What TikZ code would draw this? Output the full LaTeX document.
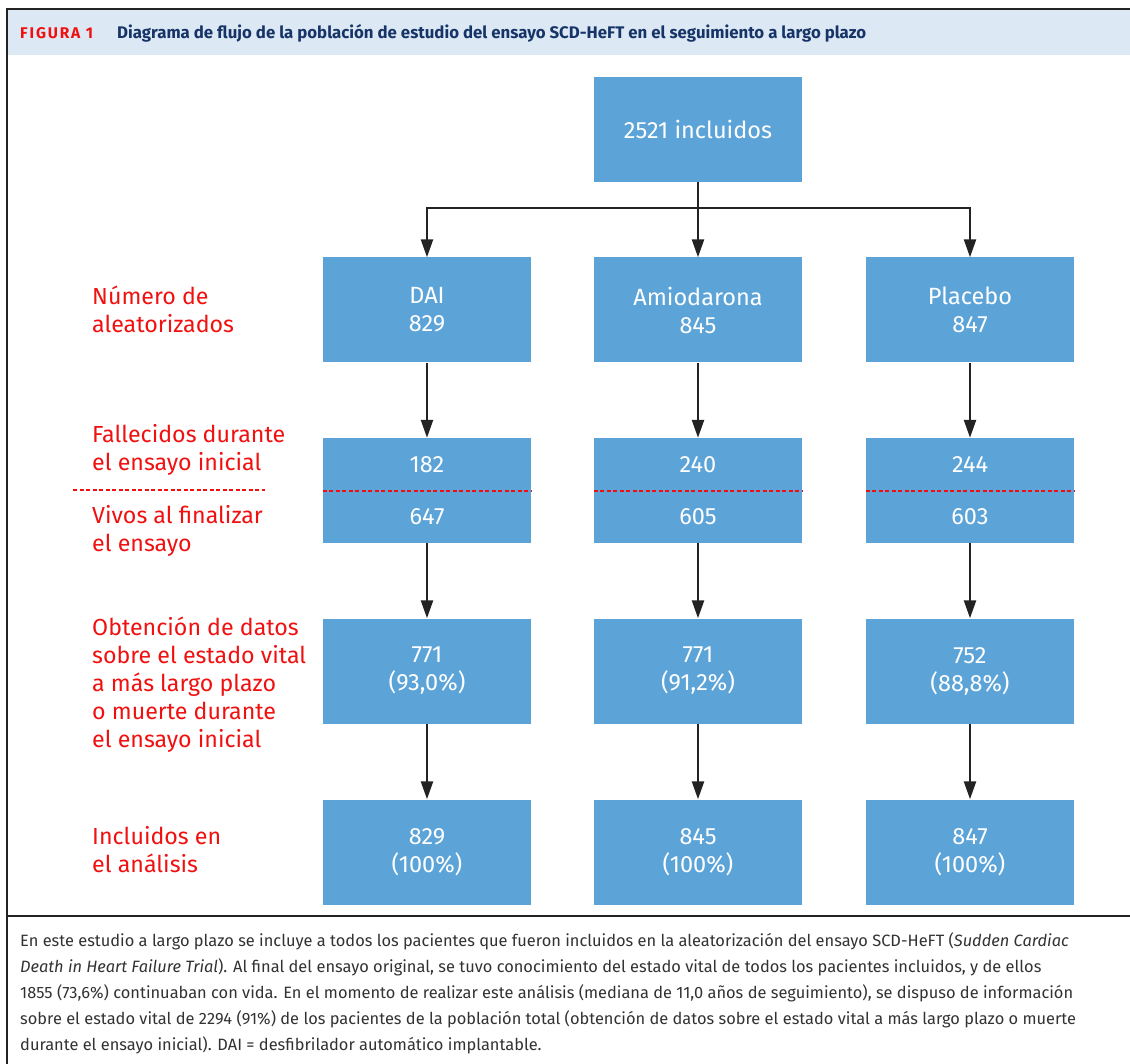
\documentclass[tikz,border=0pt]{standalone}
\usepackage{fontspec}
\setmainfont{Fira Sans}
\usetikzlibrary{arrows.meta}
\definecolor{azulcaja}{RGB}{92,164,216}
\definecolor{rojoet}{RGB}{240,16,16}
\definecolor{fondocab}{RGB}{220,232,244}
\definecolor{azultit}{RGB}{22,52,104}
\definecolor{gristxt}{RGB}{50,50,50}
\definecolor{linea}{RGB}{35,35,35}
\begin{document}
\begin{tikzpicture}[x=1pt,y=-1pt]
\tikzstyle{caja}=[fill=azulcaja,text=white,minimum width=208pt,minimum height=105pt,align=center,inner sep=0pt,font=\fontsize{23.5}{28}\selectfont]
\tikzstyle{mitad}=[caja,minimum height=52.5pt]
\tikzstyle{etiq}=[anchor=west,align=left,text=rojoet,inner sep=0pt,font=\fontsize{23.2}{28}\selectfont]
\tikzstyle{flecha}=[draw=linea,line width=2.4pt,-{Triangle[length=18pt,width=12pt]}]
\tikzstyle{corte}=[draw=rojoet,line width=1.6pt,dash pattern=on 4pt off 2.5pt]
\useasboundingbox (0,0) rectangle (1130,1064);
\fill[fondocab] (7,9) rectangle (1130,55);
\draw[line width=1.2pt,draw=linea] (1130,9) -- (7,9) -- (7,1064);
\draw[line width=1.2pt,draw=linea] (7,916) -- (1130,916);
\node[anchor=west,inner sep=0pt,text=rojoet,font=\fontsize{15.5}{16}\selectfont\bfseries\addfontfeature{LetterSpace=12}] (fig) at (20,33) {FIGURA 1};
\node[anchor=west,inner sep=0pt,text=azultit,font=\fontsize{16.8}{18}\selectfont\bfseries] (titulo) at (117,33) {Diagrama de flujo de la población de estudio del ensayo SCD-HeFT en el seguimiento a largo plazo};
\node[caja] (tot) at (698,129.5) {2521 incluidos};
\node[caja] (dai) at (427,310) {DAI\\829};
\node[caja] (ami) at (698,310) {Amiodarona\\845};
\node[caja] (pla) at (970,310) {Placebo\\847};
\node[mitad] (daif) at (427,464.25) {182};
\node[mitad] (amif) at (698,464.25) {240};
\node[mitad] (plaf) at (970,464.25) {244};
\node[mitad] (daiv) at (427,516.75) {647};
\node[mitad] (amiv) at (698,516.75) {605};
\node[mitad] (plav) at (970,516.75) {603};
\node[caja] (daio) at (427,671) {771\\(93,0\%)};
\node[caja] (amio) at (698,671) {771\\(91,2\%)};
\node[caja] (plao) at (970,671) {752\\(88,8\%)};
\node[caja] (daia) at (427,852) {829\\(100\%)};
\node[caja] (amia) at (698,852) {845\\(100\%)};
\node[caja] (plaa) at (970,852) {847\\(100\%)};
\coordinate (rama) at (698,208);
\draw[flecha] (tot) -- (ami);
\draw[flecha] (rama) -| (dai);
\draw[flecha] (rama) -| (pla);
\foreach \c in {dai,ami,pla}{
  \draw[flecha] (\c) -- (\c f);
  \draw[flecha] (\c v) -- (\c o);
  \draw[flecha] (\c o) -- (\c a);
  \draw[corte] (\c f.south west) -- (\c f.south east);
}
\node[etiq] (ealeat) at (92,309) {Número de\\aleatorizados};
\node[etiq] (efall) at (92,450) {Fallecidos durante\\el ensayo inicial};
\node[etiq] (evivos) at (92,531) {Vivos al finalizar\\el ensayo};
\node[etiq] (eobt) at (92,685) {Obtención de datos\\sobre el estado vital\\a más largo plazo\\o muerte durante\\el ensayo inicial};
\node[etiq] (eincl) at (92,850) {Incluidos en\\el análisis};
\coordinate (cortei) at (73,490);
\coordinate (corted) at (265,490);
\draw[corte] (cortei) -- (corted);
\node[anchor=north west,align=left,inner sep=0pt,text=gristxt,font=\fontsize{16.4}{26}\selectfont] (pie) at (20,932) {En este estudio a largo plazo se incluye a todos los pacientes que fueron incluidos en la aleatorización del ensayo SCD-HeFT (\textit{Sudden Cardiac}\\\textit{Death in Heart Failure Trial}). Al final del ensayo original, se tuvo conocimiento del estado vital de todos los pacientes incluidos, y de ellos\\1855 (73,6\%) continuaban con vida. En el momento de realizar este análisis (mediana de 11,0 años de seguimiento), se dispuso de información\\sobre el estado vital de 2294 (91\%) de los pacientes de la población total (obtención de datos sobre el estado vital a más largo plazo o muerte\\durante el ensayo inicial). DAI = desfibrilador automático implantable.};
\end{tikzpicture}
\end{document}
